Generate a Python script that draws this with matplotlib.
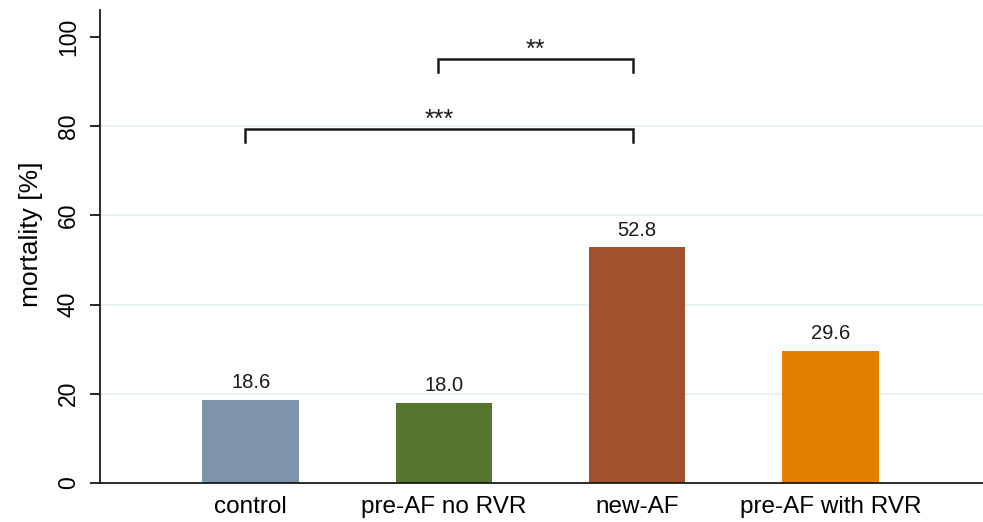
import matplotlib
matplotlib.use("Agg")
import matplotlib.pyplot as plt

categories = ["control", "pre-AF no RVR", "new-AF", "pre-AF with RVR"]
values = [18.6, 18.0, 52.8, 29.6]
colors = ["#7d94aa", "#55752f", "#a0522d", "#e37e03"]
yticks = [0, 20, 40, 60, 80, 100]
# brackets: (left index, right index, height, label)
brackets = [(0, 2, 79.4, "***"), (1, 2, 95.1, "**")]

plt.rcParams['font.family'] = ['Liberation Sans', 'DejaVu Sans']

fig = plt.figure(figsize=(9.83, 5.22), dpi=100)
ax = fig.add_axes([0.1017, 0.0747, 0.8983, 0.906])

x = list(range(len(categories)))
for g in [20, 40, 60, 80]:
    ax.axhline(g, color="#e8f1f3", lw=1.5, zorder=0)
bars = ax.bar(x, values, width=0.5, color=colors, zorder=2)
for xi, v in zip(x, values):
    ax.text(xi, v + 2.6, f"{v:.1f}", ha="center", va="baseline", fontsize=14.5, color="#1a1a1a")

for l, r, h, lab in brackets:
    lx, rx = l - 0.03, r - 0.02
    ax.plot([lx, lx, rx, rx], [h - 3, h, h, h - 3], color="#1a1a1a", lw=1.8, zorder=3,
            solid_joinstyle="miter")
    ax.text((lx + rx) / 2, h + 0.5, lab, ha="center", va="baseline", fontsize=18,
            color="#1a1a1a")

ax.set_xlim(-0.78, 3.79)
ax.set_ylim(0, 106)
ax.set_yticks(yticks)
ax.set_yticklabels([str(t) for t in yticks], rotation=90, va="center", fontsize=16.5)
ax.set_xticks(x)
ax.set_xticklabels(categories, fontsize=17.5)
ax.tick_params(axis="x", length=0, pad=9)
ax.tick_params(axis="y", length=7.5, width=1.2, pad=7)
ax.set_ylabel("mortality [%]", fontsize=19)
ax.yaxis.set_label_coords(-0.064, 0.525)
for s in ["top", "right"]:
    ax.spines[s].set_visible(False)
for s in ["left", "bottom"]:
    ax.spines[s].set_linewidth(1.3)
    ax.spines[s].set_color("#1a1a1a")

fig.savefig("out.png", dpi=100)
